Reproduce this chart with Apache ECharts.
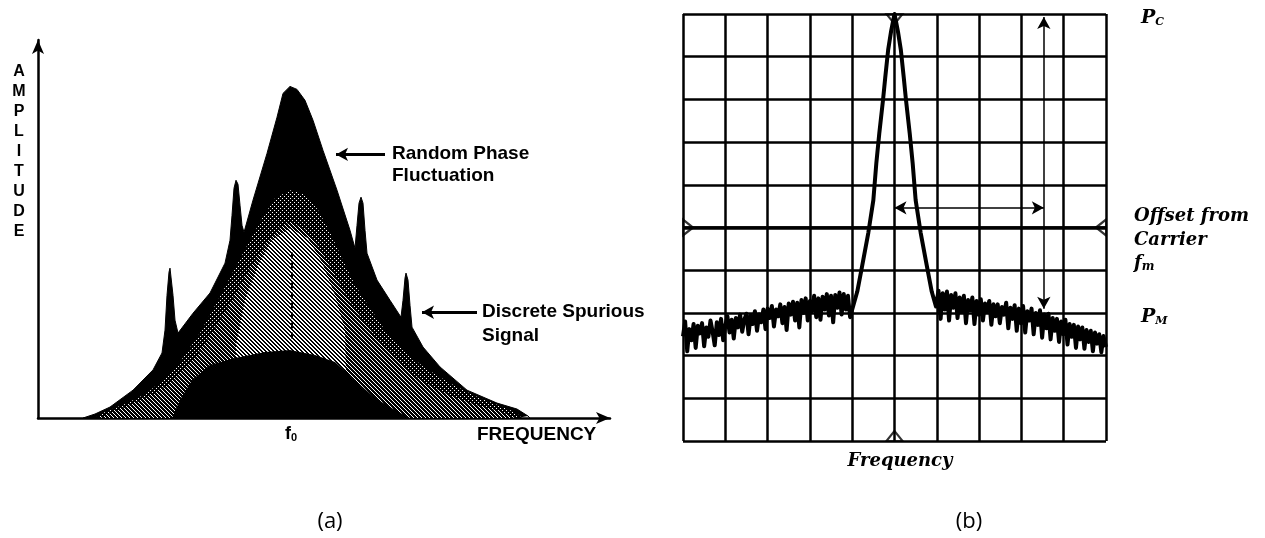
<!DOCTYPE html>
<html>
<head>
<meta charset="utf-8">
<script src="https://cdn.jsdelivr.net/npm/echarts@6/dist/echarts.min.js"></script>
<style>html,body{margin:0;padding:0;background:#fff;}#c{width:1265px;height:538px;}</style>
</head>
<body>
<div id="c"></div>
<script>
// ---------- Panel (a): frequency offset from f0 vs. amplitude (arbitrary units) ----------
const envelope = [
  [-20.7,0],[-19.5,1.2],[-18,3.3],[-15.7,8.4],[-13.7,14.5],[-12.8,19.6],[-12.5,26.5],[-12.3,37],
  [-12.1,44],[-12.0,45.2],[-11.9,44.6],[-11.7,37],[-11.5,29.5],[-11.2,25.6],[-9.7,31.6],[-8.0,37.7],
  [-6.5,46.7],[-6.0,53.6],[-5.8,61.1],[-5.6,69.3],[-5.4,71.7],[-5.2,70.5],[-5.0,64.2],[-4.8,58.1],
  [-4.6,56],[-3.7,65.7],[-2.3,79.8],[-1.3,90.7],[-0.7,97.9],[0,100],[0.7,99.1],[1.5,95.8],[2.3,89.8],
  [3.3,80.7],[4.7,68.7],[6.0,56.6],[6.5,51.2],[6.7,58.1],[6.9,64.8],[7.1,66.6],[7.3,64.8],[7.5,56.6],
  [7.7,49.7],[8.7,41.6],[10.0,35.5],[11.1,30.4],[11.3,35.5],[11.5,42.2],[11.6,43.7],[11.8,41.6],
  [12.0,34],[12.2,27.4],[13.3,21.4],[15.0,15.4],[17.7,8.4],[20.7,4.5],[22.7,2.7],[23.8,0.6],[24.0,0]
];
const textureRegion = [
  [-19.5,0],[-18.5,1.8],[-16.5,4.2],[-14.5,7.2],[-12.7,11.4],[-11,16.9],[-9,25.6],[-7.2,35.5],
  [-5.5,45.2],[-4,53.6],[-2.8,60.2],[-1.5,66.3],[0,68.7],[1.5,67.5],[2.8,62.7],[4,56],[5.2,48.2],
  [6.5,40.1],[7.8,34],[9.5,26.5],[11.5,19.9],[13.5,15.1],[16,10.5],[18.5,6.6],[21,3.6],[22.5,1.8],[23.2,0]
];
const midRegion = [
  [-19,0],[-17.5,2],[-15.5,4.5],[-13.5,7.5],[-11.5,11.5],[-9.5,18],[-7.5,27],[-5.5,37],[-4,45],
  [-2.5,52],[-1,57.5],[0,59],[1.5,57],[3,51],[4.5,43],[6,35],[7.5,28.5],[9.5,21],[11.5,15],
  [13.5,10.5],[16,6.8],[18.5,4],[21,2],[22.5,0]
];
const lightCore = [
  [-5.5,0],[-5.4,22],[-4.5,35.5],[-3.2,46.1],[-1.8,53.6],[0,57.2],[1.8,54.2],[3.2,47],[4.5,37],[5.5,26.5],[5.7,0]
];
const baseHill = [
  [-11.8,0],[-11,5.4],[-9.8,11.4],[-8,16],[-5.5,18.1],[-2.5,19.9],[0,20.5],[2.5,19],[4.5,16.9],
  [6.5,11.4],[8.5,6],[10.5,2.4],[12,0]
];

// ---------- Panel (b): spectrum analyzer display, divisions ----------
const noiseLeft = [
  [0.00,2.45],[0.05,2.80],[0.10,2.10],[0.15,2.62],[0.20,2.36],[0.25,2.74],[0.30,2.18],[0.35,2.70],
  [0.40,2.52],[0.45,2.76],[0.50,2.22],[0.55,2.66],[0.60,2.44],[0.65,2.82],[0.70,2.56],[0.75,2.24],
  [0.80,2.78],[0.85,2.48],[0.90,2.86],[0.95,2.36],[1.00,2.70],[1.05,2.92],[1.10,2.54],[1.15,2.84],
  [1.20,2.40],[1.25,2.88],[1.30,2.66],[1.35,2.96],[1.40,2.56],[1.45,2.84],[1.50,2.98],[1.55,2.50],
  [1.60,2.94],[1.65,2.74],[1.70,3.04],[1.75,2.58],[1.80,2.96],[1.85,2.78],[1.90,3.08],[1.95,2.62],
  [2.00,3.10],[2.05,2.88],[2.10,3.16],[2.15,2.68],[2.20,3.08],[2.25,2.92],[2.30,3.20],[2.35,2.76],
  [2.40,3.14],[2.45,2.60],[2.50,3.22],[2.55,2.96],[2.60,3.26],[2.65,2.82],[2.70,3.24],[2.75,2.66],
  [2.80,3.30],[2.85,3.00],[2.90,3.34],[2.95,2.82],[3.00,3.28],[3.05,3.04],[3.10,3.40],[3.15,2.90],
  [3.20,3.34],[3.25,2.84],[3.30,3.38],[3.35,3.08],[3.40,3.44],[3.45,2.94],[3.50,3.40],[3.55,2.78],
  [3.60,3.42],[3.65,3.12],[3.70,3.48],[3.75,2.96],[3.80,3.44],[3.85,3.08],[3.90,3.40],[3.95,2.90],
  [4.00,3.08]
];
const carrier = [
  [4.02,3.10],[4.12,3.50],[4.23,4.07],[4.38,4.87],[4.50,5.64],[4.57,6.50],[4.64,7.20],[4.73,8.00],
  [4.78,8.50],[4.85,9.16],[4.92,9.60],[5.00,10.0],[5.08,9.60],[5.15,9.16],[5.22,8.50],[5.27,8.00],
  [5.36,7.20],[5.43,6.50],[5.50,5.64],[5.62,4.87],[5.77,4.07],[5.88,3.50],[5.98,3.15]
];
const noiseRight = [
  [6.00,3.15],[6.04,3.52],[6.09,2.86],[6.14,3.46],[6.19,3.08],[6.24,3.50],[6.29,2.82],[6.34,3.42],
  [6.39,3.12],[6.44,3.46],[6.49,2.88],[6.54,3.36],[6.59,3.02],[6.64,3.40],[6.69,2.76],[6.74,3.30],
  [6.79,3.06],[6.84,3.36],[6.89,2.74],[6.94,3.28],[6.99,2.96],[7.04,3.32],[7.09,2.82],[7.14,3.22],
  [7.19,3.04],[7.24,3.28],[7.29,2.72],[7.34,3.20],[7.39,2.92],[7.44,3.20],[7.49,2.76],[7.54,3.14],
  [7.59,2.96],[7.64,3.24],[7.69,2.64],[7.74,3.12],[7.79,2.86],[7.84,3.18],[7.89,2.58],[7.94,3.10],
  [7.99,2.76],[8.04,3.16],[8.09,2.54],[8.14,3.04],[8.19,2.82],[8.24,3.10],[8.29,2.50],[8.34,3.00],
  [8.39,2.72],[8.44,3.06],[8.49,2.42],[8.54,2.96],[8.59,2.64],[8.64,2.98],[8.69,2.38],[8.74,2.88],
  [8.79,2.58],[8.84,2.86],[8.89,2.32],[8.94,2.80],[8.99,2.50],[9.04,2.84],[9.09,2.26],[9.14,2.74],
  [9.19,2.44],[9.24,2.72],[9.29,2.18],[9.34,2.68],[9.39,2.38],[9.44,2.66],[9.49,2.16],[9.54,2.60],
  [9.59,2.32],[9.64,2.58],[9.69,2.10],[9.74,2.54],[9.79,2.28],[9.84,2.50],[9.89,2.08],[9.94,2.46],
  [10.00,2.20]
];
const pcLevel = 10, pmLevel = 3, centerDiv = 5, offsetDiv = 8.53, offsetArrowLevel = 5.46;
const edgeMarkers = [[5,10,180],[5,0,0],[0,5,-90],[10,5,90]];

// bitmap halftone textures (style only)
function makePattern(size, isWhite) {
  const c = document.createElement('canvas');
  c.width = size; c.height = size;
  const g = c.getContext('2d');
  g.fillStyle = '#000'; g.fillRect(0,0,size,size);
  g.fillStyle = '#fff';
  for (let y = 0; y < size; y++) for (let x = 0; x < size; x++) if (isWhite(x,y)) g.fillRect(x,y,1,1);
  return {image:c, repeat:'repeat'};
}
const dotTex = makePattern(4, (x,y) => ((x - y + 8) % 4 === 0) && (x % 2 === 0));
const midTex = makePattern(4, (x,y) => ((x - y + 8) % 4 === 0));
const coreTex = makePattern(4, (x,y) => ((x - y + 8) % 4 <= 1));

const chart = echarts.init(document.getElementById('c'), null, {renderer:'canvas'});
const blackAxis = {show:true, onZero:false, lineStyle:{color:'#000', width:2.5}, symbol:['none','arrow'], symbolSize:[9,14]};
const sans = 'Liberation Sans, Arial, sans-serif';
const serif = 'DejaVu Serif, serif';

function area(data, fill, z) {
  return {
    type:'line', xAxisIndex:0, yAxisIndex:0, data:data, showSymbol:false, symbol:'none', z:z,
    smooth:false, silent:true, animation:false,
    lineStyle:{width:0},
    itemStyle:{color:'#000'},
    areaStyle:{color:fill, opacity:1}
  };
}

const s0 = area(envelope, '#000', 2);
s0.lineStyle = {width:1, color:'#000'};
s0.markLine = {
  silent:true, animation:false, symbolSize:[10,12], label:{show:false}, z:10,
  lineStyle:{color:'#000', width:3, type:'solid'},
  data:[
    [{coord:[9.5,79.5], symbol:'none'},{coord:[4.6,79.5], symbol:'arrow'}],
    [{coord:[18.7,31.9], symbol:'none'},{coord:[13.2,31.9], symbol:'arrow'}]
  ]
};
const s1 = area(textureRegion, dotTex, 3);
const s1b = area(midRegion, midTex, 4);
const s2 = area(lightCore, coreTex, 5);
const s3 = area(baseHill, '#000', 6);
s3.markLine = {
  silent:true, animation:false, symbol:'none', label:{show:false}, z:10,
  lineStyle:{color:'#000', width:2, type:[6,4]},
  data:[[{coord:[0.2,24]},{coord:[0.2,50]}]]
};

const trace = {
  type:'line', xAxisIndex:1, yAxisIndex:1, data: noiseLeft.concat(carrier, noiseRight),
  showSymbol:false, symbol:'none', z:6, clip:false, animation:false, silent:true,
  lineStyle:{color:'#000', width:4, join:'round'},
  markLine:{
    silent:true, animation:false, symbol:'none', symbolSize:[10,12], label:{show:false},
    lineStyle:{color:'#000', width:1.5, type:'solid'},
    data:[
      [{coord:[0,centerDiv], lineStyle:{width:3.5}},{coord:[10,centerDiv]}],
      [{coord:[10,pcLevel]},{coord:[10.64,pcLevel]}],
      [{coord:[10,pmLevel]},{coord:[10.64,pmLevel]}],
      [{coord:[centerDiv,offsetArrowLevel], symbol:'arrow'},{coord:[offsetDiv,offsetArrowLevel], symbol:'arrow'}],
      [{coord:[offsetDiv,offsetArrowLevel]},{coord:[10.45,offsetArrowLevel]}],
      [{coord:[offsetDiv,pmLevel+0.1], symbol:'arrow'},{coord:[offsetDiv,pcLevel-0.07], symbol:'arrow'}]
    ]
  }
};
const markerOffsets = {'180':[0,5], '0':[0,-5], '-90':[5,0], '90':[-5,0]};
const markers = {
  type:'scatter', xAxisIndex:1, yAxisIndex:1, z:7, silent:true, animation:false, clip:false,
  data: edgeMarkers.map(m => ({value:[m[0],m[1]], symbolRotate:m[2], symbolOffset:markerOffsets[String(m[2])]})),
  symbol:'triangle', symbolSize:[16,10],
  itemStyle:{color:'rgba(0,0,0,0)', borderColor:'#000', borderWidth:2}
};

chart.setOption({
  animation:false,
  backgroundColor:'#fff',
  grid:[
    {left:38, top:40, width:572, height:378},
    {left:683, top:14, width:423, height:427}
  ],
  xAxis:[
    {type:'value', gridIndex:0, min:-25.2, max:32, axisLine:blackAxis, axisTick:{show:false}, axisLabel:{show:false}, splitLine:{show:false}},
    {type:'value', gridIndex:1, min:0, max:10, interval:1, axisLine:{show:false}, axisTick:{show:false}, axisLabel:{show:false},
     splitLine:{show:true, showMinLine:true, showMaxLine:true, lineStyle:{color:'#000', width:2.5}}}
  ],
  yAxis:[
    {type:'value', gridIndex:0, min:0, max:114, axisLine:blackAxis, axisTick:{show:false}, axisLabel:{show:false}, splitLine:{show:false}},
    {type:'value', gridIndex:1, min:0, max:10, interval:1, axisLine:{show:false}, axisTick:{show:false}, axisLabel:{show:false},
     splitLine:{show:true, showMinLine:true, showMaxLine:true, lineStyle:{color:'#000', width:2.5}}}
  ],
  series:[s0, s1, s1b, s2, s3, trace, markers],
  graphic:[
    {type:'text', x:19, y:62, silent:true, style:{text:'A\nM\nP\nL\nI\nT\nU\nD\nE', font:'bold 16px '+sans, lineHeight:20, align:'center', verticalAlign:'top', fill:'#000'}},
    {type:'text', x:392, y:154, silent:true, style:{text:'Random Phase', font:'bold 19px '+sans, verticalAlign:'middle', fill:'#000'}},
    {type:'text', x:392, y:176, silent:true, style:{text:'Fluctuation', font:'bold 19px '+sans, verticalAlign:'middle', fill:'#000'}},
    {type:'text', x:482, y:312, silent:true, style:{text:'Discrete Spurious', font:'bold 19px '+sans, verticalAlign:'middle', fill:'#000'}},
    {type:'text', x:482, y:336, silent:true, style:{text:'Signal', font:'bold 19px '+sans, verticalAlign:'middle', fill:'#000'}},
    {type:'text', x:285, y:434, silent:true, style:{text:'{f|f}{s|0}', verticalAlign:'middle', rich:{f:{font:'bold 18px '+sans, fill:'#000'}, s:{font:'bold 11px '+sans, fill:'#000', padding:[8,0,0,0]}}}},
    {type:'text', x:477, y:435, silent:true, style:{text:'FREQUENCY', font:'bold 19px '+sans, verticalAlign:'middle', fill:'#000'}},
    {type:'text', x:330, y:522, silent:true, style:{text:'(a)', font:'22px Open Sans, sans-serif', align:'center', verticalAlign:'middle', fill:'#000'}},
    {type:'text', x:969, y:522, silent:true, style:{text:'(b)', font:'22px Open Sans, sans-serif', align:'center', verticalAlign:'middle', fill:'#000'}},
    {type:'text', x:1141, y:18, silent:true, style:{text:'{p|P}{s|C}', verticalAlign:'middle', rich:{p:{font:'italic bold 19px '+serif, fill:'#000'}, s:{font:'italic bold 11px '+serif, fill:'#000', padding:[8,0,0,0]}}}},
    {type:'text', x:1141, y:317, silent:true, style:{text:'{p|P}{s|M}', verticalAlign:'middle', rich:{p:{font:'italic bold 19px '+serif, fill:'#000'}, s:{font:'italic bold 11px '+serif, fill:'#000', padding:[8,0,0,0]}}}},
    {type:'text', x:1134, y:216, silent:true, style:{text:'Offset from', font:'italic bold 18px '+serif, verticalAlign:'middle', fill:'#000'}},
    {type:'text', x:1134, y:240, silent:true, style:{text:'Carrier', font:'italic bold 18px '+serif, verticalAlign:'middle', fill:'#000'}},
    {type:'text', x:1134, y:263, silent:true, style:{text:'{f|f}{s|m}', verticalAlign:'middle', rich:{f:{font:'italic bold 18px '+serif, fill:'#000'}, s:{font:'italic bold 12px '+serif, fill:'#000', padding:[7,0,0,0]}}}},
    {type:'text', x:900, y:461, silent:true, style:{text:'Frequency', font:'italic bold 18px '+serif, align:'center', verticalAlign:'middle', fill:'#000'}}
  ]
});
</script>
</body>
</html>
